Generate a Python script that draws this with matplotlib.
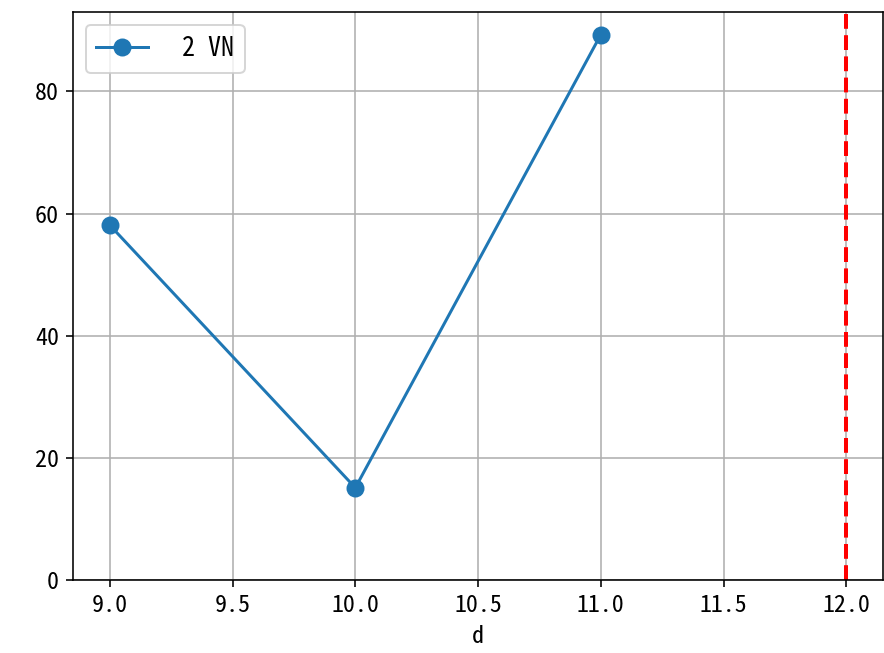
import matplotlib
matplotlib.use("Agg")
import matplotlib.pyplot as plt

# data
d_values = [9.0, 10.0, 11.0]
vn_values = [58.1, 15.1, 89.3]
series_label = " 2 VN"
vline_x = 12.0
xtick_values = [9.0, 9.5, 10.0, 10.5, 11.0, 11.5, 12.0]

plt.rcParams["font.family"] = ["Noto Sans Mono CJK JP", "Noto Sans CJK JP", "DejaVu Sans"]
plt.rcParams["font.size"] = 12

fig = plt.figure(figsize=(884 / 144, 653 / 144), dpi=144)
ax = fig.add_axes([0.0826, 0.1118, 0.9164, 0.8698])

ax.plot(d_values, vn_values, marker="o", markersize=8, color="#1f77b4", label=series_label)
ax.axvline(vline_x, color="red", linestyle="--", linewidth=2)
ax.set_ylim(bottom=0)

ax.set_xticks(xtick_values)
ax.set_xticklabels([f"{v:.1f}" for v in xtick_values])
ax.set_xlabel("d")
ax.grid(True)
ax.legend(loc="upper left", fontsize=13)

fig.savefig("out.png", dpi=144)
